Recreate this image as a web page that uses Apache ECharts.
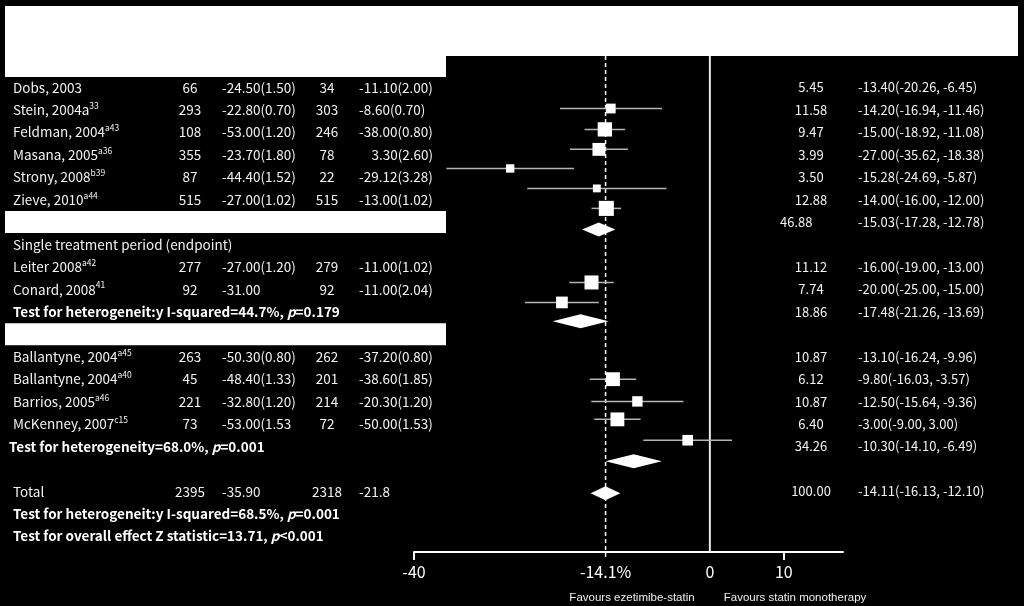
<!DOCTYPE html>
<html><head><meta charset="utf-8">
<script src="https://cdn.jsdelivr.net/npm/echarts@6/dist/echarts.min.js"></script>
<style>html,body{margin:0;padding:0;background:#000}#c{width:1024px;height:606px}</style>
</head><body><div id="c"></div>
<script>
// ---- data (one entry per text row, rows 0..20) ----
const labels = ['Dobs, 2003','Stein, 2004a','Feldman, 2004','Masana, 2005','Strony, 2008','Zieve, 2010','',
  'Single treatment period (endpoint)','Leiter 2008','Conard, 2008',
  'Test for heterogeneit:y I-squared=44.7%, p=0.179','',
  'Ballantyne, 2004','Ballantyne, 2004','Barrios, 2005','McKenney, 2007',
  'Test for heterogeneity=68.0%, p=0.001','','Total',
  'Test for heterogeneit:y I-squared=68.5%, p=0.001',
  'Test for overall effect Z statistic=13.71, p<0.001'];
const sups = ['','33','a43','a36','b39','a44','','','a42','41','','','a45','a40','a46','c15','','','','',''];
const nTreat = ['66','293','108','355','87','515','','','277','92','','','263','45','221','73','','','2395','',''];
const meanTreat = ['-24.50(1.50)','-22.80(0.70)','-53.00(1.20)','-23.70(1.80)','-44.40(1.52)','-27.00(1.02)','','',
  '-27.00(1.20)','-31.00','','','-50.30(0.80)','-48.40(1.33)','-32.80(1.20)','-53.00(1.53','','','-35.90','',''];
const nCtrl = ['34','303','246','78','22','515','','','279','92','','','262','201','214','72','','','2318','',''];
const meanCtrl = ['-11.10(2.00)','-8.60(0.70)','-38.00(0.80)','3.30(2.60)','-29.12(3.28)','-13.00(1.02)','','',
  '-11.00(1.02)','-11.00(2.04)','','','-37.20(0.80)','-38.60(1.85)','-20.30(1.20)','-50.00(1.53)','','','-21.8','',''];
const weights = [5.45,11.58,9.47,3.99,3.50,12.88,46.88,null,11.12,7.74,18.86,null,10.87,6.12,10.87,6.40,34.26,null,100.00,null,null];
const est = [-13.40,-14.20,-15.00,-27.00,-15.28,-14.00,-15.03,null,-16.00,-20.00,-17.48,null,-13.10,-9.80,-12.50,-3.00,-10.30,null,-14.11,null,null];
const lo  = [-20.26,-16.94,-18.92,-35.62,-24.69,-16.00,-17.28,null,-19.00,-25.00,-21.26,null,-16.24,-16.03,-15.64,-9.00,-14.10,null,-16.13,null,null];
const hi  = [-6.45,-11.46,-11.08,-18.38,-5.87,-12.00,-12.78,null,-13.00,-15.00,-13.69,null,-9.96,-3.57,-9.36,3.00,-6.49,null,-12.10,null,null];
// row position of each plotted mark on the row axis
const plotRow = [0.94,1.87,2.76,3.61,4.50,5.39,6.33,null,8.69,9.58,10.42,null,13.00,13.99,14.79,15.72,16.66,null,18.08,null,null];
const pooledRows = [6,10,16,18];
const whiteBarRows = [6,11];
const overall = -14.1;
const tickValues = [-40, -14.1, 0, 10];

// ---- layout ----
const FONT = '"Noto Sans CJK KR","Noto Sans",sans-serif';
const FS = 13.5, FSR = 13;
const COL = {label:13, nT:190, mT:222, nC:327, mC:359, mCr:433, w:811, wBar:780, eff:858};
const fmt = v => v.toFixed(2);

function richLabel(r){
  const t = labels[r];
  if (t.startsWith('Test')) {
    const i = t.lastIndexOf(', p');
    return '{b|' + t.slice(0, i + 2) + '}{bi|p}{b|' + t.slice(i + 3) + '}';
  }
  return '{n|' + t + '}' + (sups[r] ? '{s|' + sups[r] + '}' : '');
}
const rich = {
  n:{fontSize:FS, fontFamily:FONT, fill:'#f2f2f2', lineHeight:17},
  s:{fontSize:8.5, fontFamily:FONT, fill:'#f2f2f2', verticalAlign:'top', lineHeight:9},
  b:{fontSize:13.5, fontFamily:FONT, fontWeight:'bold', fill:'#fff', lineHeight:17},
  bi:{fontSize:13.5, fontFamily:FONT, fontWeight:'bold', fontStyle:'italic', fill:'#fff', lineHeight:17}
};
function txt(x, y, text, align, fs){
  return {type:'text', x:x, y:y, style:{text:text, fill:'#f2f2f2', fontSize:fs||FS, fontFamily:FONT, align:align||'left', verticalAlign:'middle'}};
}

function renderRow(params, api){
  const r = api.value(1);
  const y = api.coord([0, r])[1];
  const ch = [];
  if (whiteBarRows.includes(r)) ch.push({type:'rect', shape:{x:5, y:y-11, width:441, height:22}, style:{fill:'#fff'}});
  if (labels[r]) {
    const lx = labels[r].startsWith('Test for heterogeneity=') ? 9 : COL.label;
    ch.push({type:'text', x:lx, y:y, style:{text:richLabel(r), rich:rich, align:'left', verticalAlign:'middle'}});
  }
  if (nTreat[r]) ch.push(txt(COL.nT, y, nTreat[r], 'center'));
  if (meanTreat[r]) ch.push(txt(COL.mT, y, meanTreat[r]));
  if (nCtrl[r]) ch.push(txt(COL.nC, y, nCtrl[r], 'center'));
  if (meanCtrl[r]) {
    if (meanCtrl[r].startsWith('-')) ch.push(txt(COL.mC, y, meanCtrl[r]));
    else ch.push(txt(COL.mCr, y, meanCtrl[r], 'right'));
  }
  if (weights[r] != null) {
    if (whiteBarRows.includes(r)) ch.push(txt(COL.wBar, y, fmt(weights[r]), 'left', FSR));
    else ch.push(txt(COL.w, y, fmt(weights[r]), 'center', FSR));
  }
  if (est[r] != null) ch.push(txt(COL.eff, y, fmt(est[r]) + '(' + fmt(lo[r]) + ', ' + fmt(hi[r]) + ')', 'left', FSR));
  return {type:'group', children:ch};
}

function renderMark(params, api){
  const e = api.value(0), r = api.value(1), l = api.value(2), h = api.value(3), w = api.value(4), pooled = api.value(5);
  const p = api.coord([e, r]), a = api.coord([l, r]), b = api.coord([h, r]);
  if (pooled) {
    const hh = 7;
    return {type:'polygon', shape:{points:[[a[0], p[1]], [p[0], p[1]-hh], [b[0], p[1]], [p[0], p[1]+hh]]}, style:{fill:'#fff'}};
  }
  const s = 4.2 * Math.sqrt(w);
  return {type:'group', children:[
    {type:'line', shape:{x1:a[0], y1:p[1], x2:b[0], y2:p[1]}, style:{stroke:'#b4b4b4', lineWidth:1.5}},
    {type:'rect', shape:{x:p[0]-s/2, y:p[1]-s/2, width:s, height:s}, style:{fill:'#fff'}}
  ]};
}

function renderRef(params, api){
  const v = api.value(0);
  const t = api.coord([v, -1.4]), bt = api.coord([v, 20.7]);
  const dashed = v !== 0;
  return {type:'line', shape:{x1:t[0], y1:t[1], x2:t[0], y2:bt[1] + (dashed ? 8 : 0)},
    style:{stroke: dashed ? '#fff' : '#e8e8e8', lineWidth: dashed ? 1.5 : 2, lineDash: dashed ? [4,3] : null}};
}

const rowData = labels.map((_, r) => [0, r]);
const markData = [];
for (let r = 0; r < labels.length; r++) {
  if (est[r] != null) markData.push([est[r], plotRow[r], lo[r], hi[r], weights[r], pooledRows.includes(r) ? 1 : 0]);
}

const chart = echarts.init(document.getElementById('c'));
chart.setOption({
  backgroundColor:'#000',
  animation:false,
  grid:{left:414, right:181, top:56, bottom:54},
  xAxis:{type:'value', position:'bottom', min:-40, max:18, splitLine:{show:false},
    axisLine:{onZero:false, lineStyle:{color:'#fff', width:2}},
    axisTick:{customValues:[-40, 10], length:8, lineStyle:{color:'#fff', width:2}},
    axisLabel:{customValues:tickValues, color:'#fff', fontSize:16, fontFamily:FONT, margin:12,
      formatter: v => (Math.abs(v - overall) < 1e-9 ? overall + '%' : String(v))}},
  yAxis:{type:'value', inverse:true, min:-1.4, max:20.7, show:false},
  graphic:[
    {type:'polygon', shape:{points:[[5,6],[1018,6],[1018,56],[446,56],[446,77],[5,77]]}, style:{fill:'#fff'}},
    {type:'text', x:632, y:598, style:{text:'Favours ezetimibe-statin', fill:'#f0f0f0', fontSize:11.5, fontFamily:'"Liberation Sans",Arial,sans-serif', align:'center', verticalAlign:'middle'}},
    {type:'text', x:795, y:598, style:{text:'Favours statin monotherapy', fill:'#f0f0f0', fontSize:11.5, fontFamily:'"Liberation Sans",Arial,sans-serif', align:'center', verticalAlign:'middle'}}
  ],
  series:[
    {type:'custom', clip:false, renderItem:renderRef, data:[[overall, 0],[0, 0]], silent:true},
    {type:'custom', clip:false, renderItem:renderMark, data:markData, silent:true},
    {type:'custom', clip:false, renderItem:renderRow, data:rowData, silent:true}
  ]
});
</script></body></html>
